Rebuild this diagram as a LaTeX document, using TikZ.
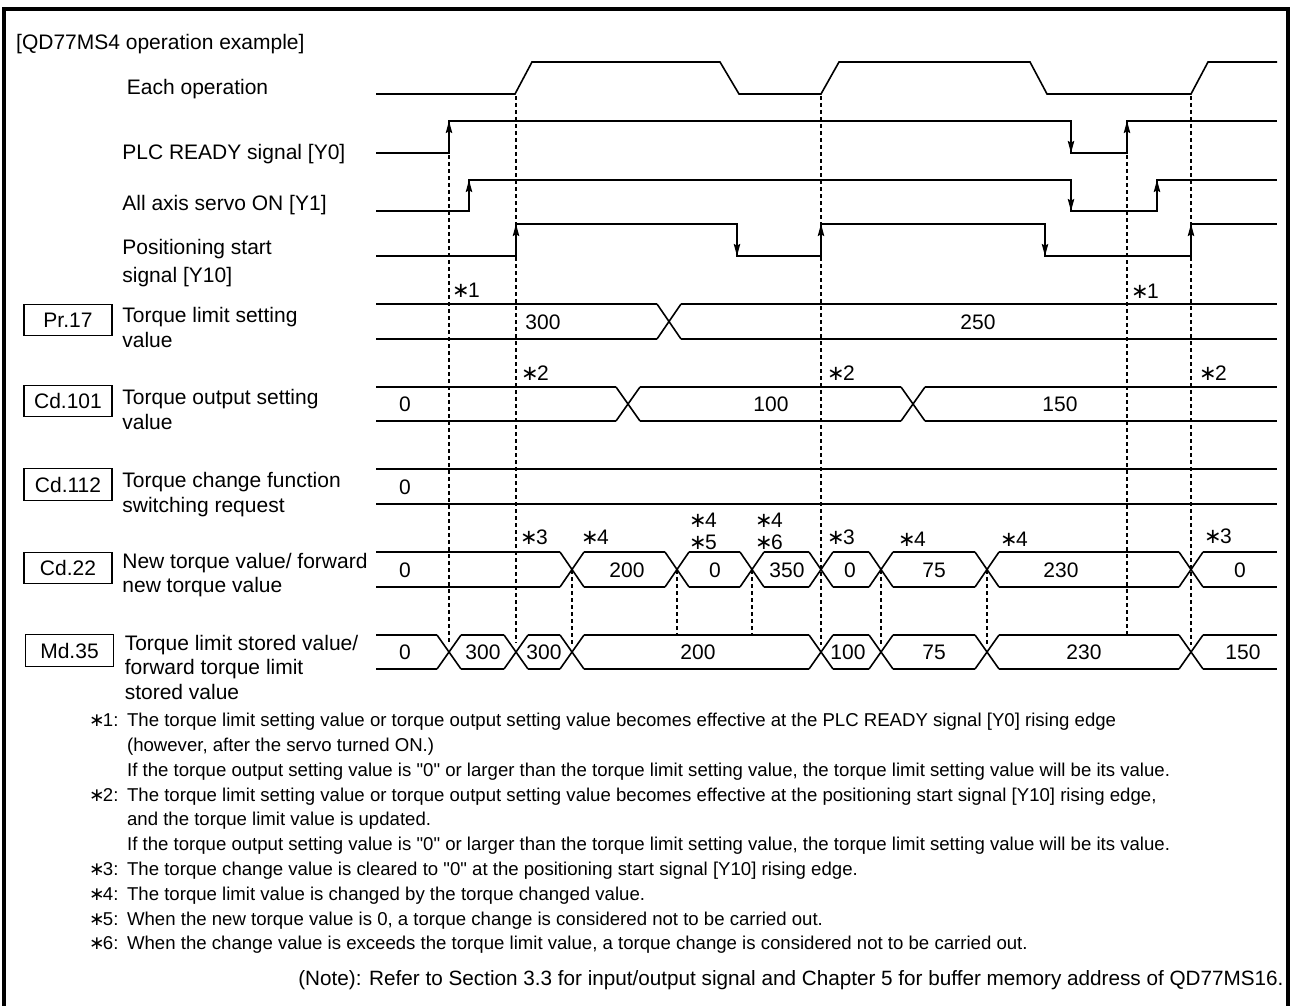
\documentclass[tikz,border=0pt]{standalone}
\usepackage{fontspec}
\setmainfont{Liberation Sans}
\newfontfamily\astfont{DejaVu Sans}
\usetikzlibrary{arrows.meta}
\newcommand{\starmark}{{\astfont\kern-0.6pt\char"2217\kern-0.9pt}}
\newcommand{\fnmark}[1]{\makebox[18.35pt][l]{\starmark#1:}}

\begin{document}
\begin{tikzpicture}[x=0.5pt,y=-0.5pt,
  sig/.style={line width=0.8pt},
  arr/.style={-{Stealth[length=6pt,width=3.2pt,inset=0.8pt]}},
  guide/.style={line width=0.9pt,dash pattern=on 2.2pt off 1.3pt},
  reg/.style={draw,line width=0.7pt,minimum width=44pt,minimum height=15.75pt,inner sep=0pt,font=\fontsize{10.5pt}{12.2pt}\selectfont},
  lab/.style={anchor=west,inner sep=0pt,text height=7.5pt,text depth=0pt,font=\fontsize{10.5pt}{12.2pt}\selectfont},
  lab2/.style={anchor=west,inner sep=0pt,align=left,font=\fontsize{10.5pt}{12.2pt}\selectfont},
  val/.style={inner sep=0pt,text height=7.5pt,text depth=0pt,font=\fontsize{10.5pt}{12.2pt}\selectfont},
  astlab/.style={val,anchor=west}]
\useasboundingbox (0,0) rectangle (1295,1006);
\draw[line width=2pt] (4,1012) -- (4,9) -- (1288,9) -- (1288,1012);

\node[lab] (title) at (15.8,41.7) {[QD77MS4 operation example]};
\node[lab] (lEach) at (126.5,87) {Each operation};
\node[lab] (lReady) at (122,151.7) {PLC READY signal [Y0]};
\node[lab] (lServo) at (122,202.7) {All axis servo ON [Y1]};
\node[lab2] (lStart) at (122,263) {Positioning start\\[2pt]signal [Y10]};

\node[reg] (pr17) at (68,320) {Pr.17};
\node[reg] (cd101) at (68,401) {Cd.101};
\node[reg] (cd112) at (68,484.5) {Cd.112};
\node[reg] (cd22) at (68,568) {Cd.22};
\node[reg] (md35) at (69.5,650.5) {Md.35};
\node[lab2] (lPr) at (122,327.5) {Torque limit setting\\value};
\node[lab2] (lOut) at (122,409.5) {Torque output setting\\value};
\node[lab2] (lChg) at (122,494.4) {Torque change function\\switching request};
\node[lab2] (lNew) at (122,575) {New torque value/ forward\\new torque value};
\node[lab2] (lStore) at (124.4,667.2) {Torque limit stored value/\\forward torque limit\\stored value};

\draw[sig] (376,94) -- (515,94) -- (532,62) -- (720,62) -- (739,94) -- (821,94) -- (839,62) -- (1030,62) -- (1047,94) -- (1191,94) -- (1208,62) -- (1277,62);
\draw[sig] (376,153) -- (449,153) -- (449,121) -- (1071,121) -- (1071,153) -- (1127,153) -- (1127,121) -- (1277,121);
\draw[sig] (376,211) -- (469,211) -- (469,180) -- (1071,180) -- (1071,211) -- (1157,211) -- (1157,180) -- (1277,180);
\draw[sig] (376,256) -- (516,256) -- (516,224) -- (737,224) -- (737,256) -- (821,256) -- (821,224) -- (1045,224) -- (1045,256) -- (1191,256) -- (1191,224) -- (1277,224);
\foreach \x/\a/\b in {449/153/121,1071/121/153,1127/153/121,469/211/180,1071/180/211,1157/211/180,516/256/224,737/224/256,821/256/224,1045/224/256,1191/256/224}
  \draw[sig,arr] (\x,\a) -- (\x,\b);

\foreach \yt/\yb/\xs in {304/339/{669,1289},387/421/{628,913,1289},552/587/{572,677,752,821,881,987,1191,1289},635/669/{449,516,572,821,881,987,1191,1289}} {
  \foreach \x [remember=\x as \lx (initially 364)] in \xs {
    \draw[sig] (\lx+12,\yt) -- (\x-12,\yt) (\lx+12,\yb) -- (\x-12,\yb);
    \ifnum\x<1280 \draw[sig] (\x-12,\yt) -- (\x+12,\yb) (\x-12,\yb) -- (\x+12,\yt); \fi
  }
}
\draw[sig,line width=1.4pt] (376,469) -- (1277,469) (376,504) -- (1277,504);

\draw[guide] (449,155) -- (449,643);
\draw[guide] (516,96) -- (516,643);
\draw[guide] (821,96) -- (821,645);
\draw[guide] (1127,155) -- (1127,635);
\draw[guide] (1191,96) -- (1191,645);
\foreach \x/\b in {572/645,677/635,752/635,881/645,987/645}
  \draw[guide] (\x,570) -- (\x,\b);

\foreach \x/\v in {543/300,978/250} \node[val] (pr-\x) at (\x,321.5) {\v};
\foreach \x/\v in {405/0,771/100,1060/150} \node[val] (out-\x) at (\x,404) {\v};
\node[val] (chg-405) at (405,486.5) {0};
\foreach \x/\v in {405/0,627/200,715/0,787/350,850/0,934/75,1061/230,1240/0} \node[val] (new-\x) at (\x,569.5) {\v};
\foreach \x/\v in {405/0,483/300,544/300,698/200,848/100,934/75,1084/230,1243/150} \node[val] (sto-\x) at (\x,652) {\v};

\foreach \x/\y/\n in {453/290/1,1132/291/1,522/373/2,828/373/2,1200/373/2,521/537/3,582/537/4,690/520/4,690/542/5,756/520/4,756/542/6,828/537/3,899/539/4,1001/539/4,1205/536/3}
  \node[astlab] (ast-\n-\x-\y) at (\x,\y) {\starmark\n};

\node[anchor=base west,inner sep=0pt,font=\fontsize{9.3pt}{12.4pt}\selectfont] (notes) at (90,726.7) {\begin{tabular}[t]{@{}l@{}l@{}}
\fnmark{1}&The torque limit setting value or torque output setting value becomes effective at the PLC READY signal [Y0] rising edge\\
&(however, after the servo turned ON.)\\
&If the torque output setting value is \textquotedbl0\textquotedbl{} or larger than the torque limit setting value, the torque limit setting value will be its value.\\
\fnmark{2}&The torque limit setting value or torque output setting value becomes effective at the positioning start signal [Y10] rising edge,\\
&and the torque limit value is updated.\\
&If the torque output setting value is \textquotedbl0\textquotedbl{} or larger than the torque limit setting value, the torque limit setting value will be its value.\\
\fnmark{3}&The torque change value is cleared to \textquotedbl0\textquotedbl{} at the positioning start signal [Y10] rising edge.\\
\fnmark{4}&The torque limit value is changed by the torque changed value.\\
\fnmark{5}&When the new torque value is 0, a torque change is considered not to be carried out.\\
\fnmark{6}&When the change value is exceeds the torque limit value, a torque change is considered not to be carried out.
\end{tabular}};
\node[anchor=east,inner sep=0pt,text height=7.4pt,text depth=0pt,font=\fontsize{10.35pt}{12pt}\selectfont] (note) at (1284,978) {(Note): Refer to Section 3.3 for input/output signal and Chapter 5 for buffer memory address of QD77MS16.};
\end{tikzpicture}
\end{document}
